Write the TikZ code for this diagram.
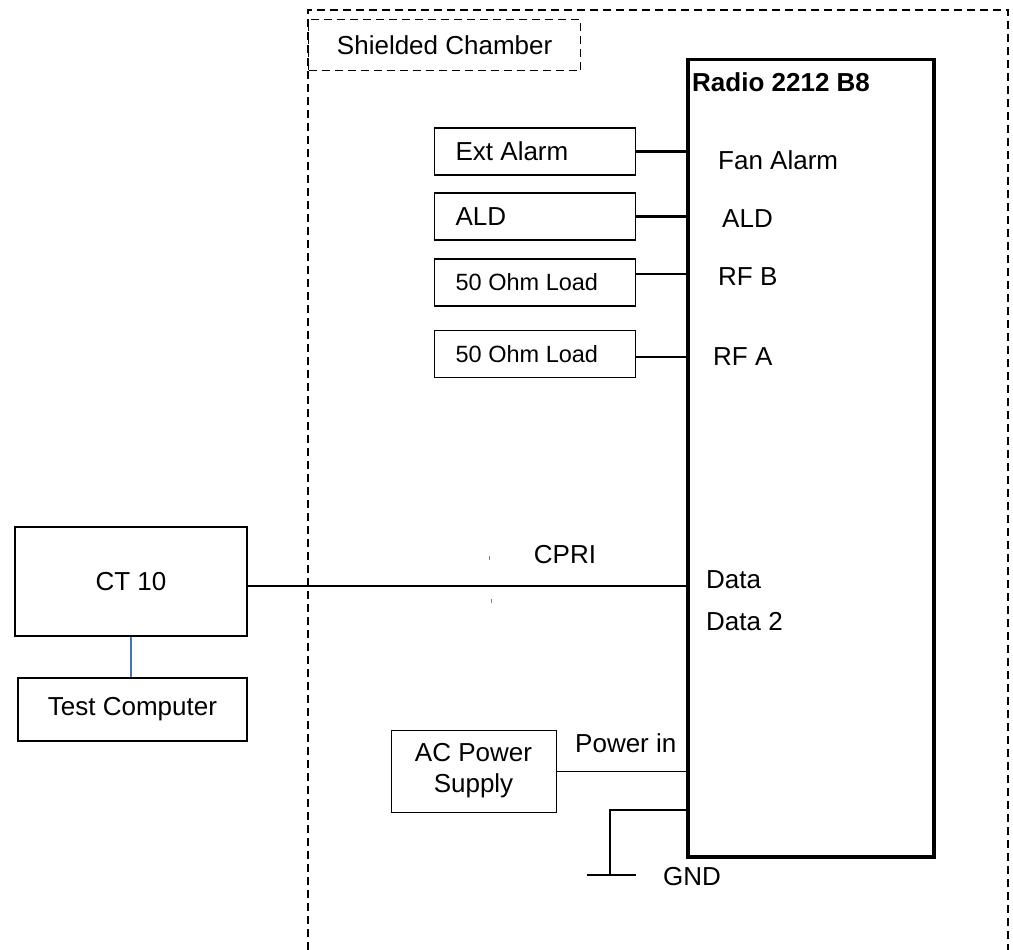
\documentclass[tikz,border=0pt]{standalone}
\usepackage{fontspec}
\setmainfont{Liberation Sans}
\usepackage{tikz}
\definecolor{linkblue}{RGB}{68,114,196}

\begin{document}
\begin{tikzpicture}[x=1pt,y=-1pt,font=\fontsize{26}{31}\selectfont,inner sep=0pt,
  box/.style={draw,line width=1.3pt},
  loadbox/.style={box,anchor=west,minimum height=47pt,text width=159pt,inner xsep=21pt,align=flush left},
  port/.style={anchor=west},
  chamber/.style={line width=1.3pt,dash pattern=on 8pt off 5pt},
  wire/.style={line width=2.6pt}]
\useasboundingbox (0,0) rectangle (1013,950);
% shielded chamber
\draw[chamber] (308,950) -- (308,10) -- (1008,10) -- (1008,950);
\node[chamber,draw,minimum width=272pt,minimum height=51pt,anchor=north west] (chlabel) at (308,19) {Shielded Chamber};
% radio unit
\node[draw,line width=3.5pt,minimum width=246pt,minimum height=797pt,anchor=north west] (radio) at (686,58) {};
\node[port,font=\fontsize{26}{31}\selectfont\bfseries] (radiotitle) at (692,82) {Radio 2212 B8};
\node[loadbox] (extalarm) at (434,151.5) {Ext Alarm};
\node[loadbox] (ald) at (434,216.5) {ALD};
\node[loadbox,font=\fontsize{23.5}{28}\selectfont] (loadb) at (434,282.5) {50 Ohm Load};
\node[loadbox,font=\fontsize{23.5}{28}\selectfont] (loada) at (434,354) {50 Ohm Load};
\coordinate (rfbport) at (686,274);
\coordinate (rfaport) at (686,357);
\draw[wire] (extalarm.east) -- (extalarm.east -| radio.west);
\draw[wire] (ald.east) -- (ald.east -| radio.west);
\draw[wire] (loadb.east |- rfbport) -- (rfbport);
\draw[wire] (loada.east |- rfaport) -- (rfaport);
\node[port] (fanalarm) at (718,160) {Fan Alarm};
\node[port] (aldport) at (722,219) {ALD};
\node[port] (rfb) at (718,277) {RF B};
\node[port] (rfa) at (713,357) {RF A};
\node[port] (data) at (706,580) {Data};
\node[port] (data2) at (706,622) {Data 2};
% tester
\node[box,minimum width=232pt,minimum height=109pt] (ct) at (131,581.5) {CT 10};
\node[box,minimum width=229pt,minimum height=63pt] (testpc) at (132.5,709.5) {Test Computer};
\draw[line width=1.3pt,linkblue] (ct.south) -- (ct.south |- testpc.north);
\coordinate (dataport) at (686,586);
\draw[line width=2pt] (ct.east |- dataport) -- (dataport);
\node (cpri) at (565,555) {CPRI};
\draw[line width=0.6pt,gray] (489,556) -- (489,560);
\draw[line width=0.6pt,gray] (491,599) -- (491,603);
% power and ground
\node[box,line width=1pt,minimum width=165pt,minimum height=82pt,align=center] (acps) at (473.5,771) {AC Power\\Supply};
\draw[line width=1pt] (acps.east) -- (acps.east -| radio.west);
\node[port] (powerin) at (575,743) {Power in};
\coordinate (gndport) at (686,810);
\coordinate (gnd) at (610,875);
\draw[line width=1.3pt] (gndport) -| (gnd);
\draw[line width=1.3pt] ([xshift=-23pt]gnd) -- ([xshift=26pt]gnd);
\node[port] (gndlabel) at (663,877) {GND};
\end{tikzpicture}
\end{document}
